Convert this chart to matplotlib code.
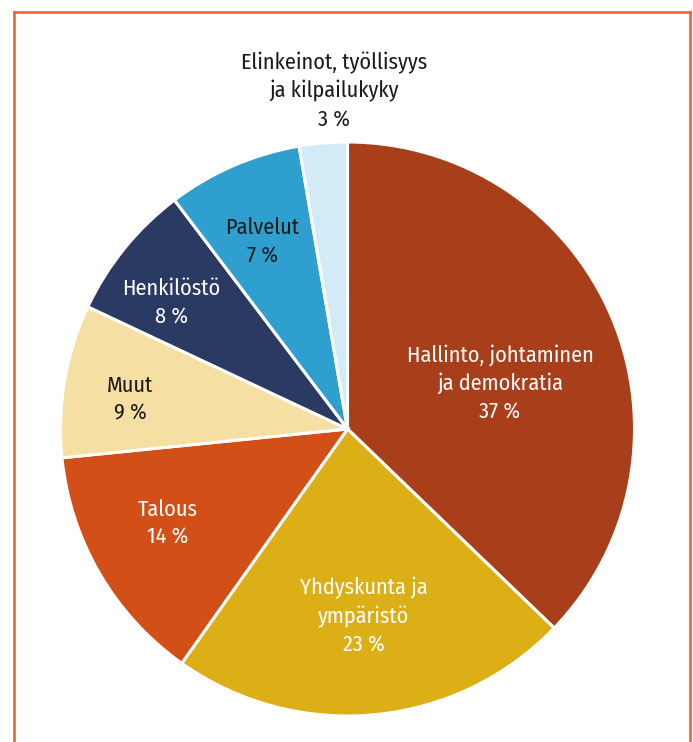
import matplotlib
matplotlib.use("Agg")
import matplotlib.pyplot as plt
import numpy as np

categories = ["Hallinto, johtaminen\nja demokratia", "Yhdyskunta ja\nympäristö", "Talous", "Muut",
              "Henkilöstö", "Palvelut", "Elinkeinot, työllisyys\nja kilpailukyky"]
values = [37.2, 22.6, 13.6, 8.6, 7.7, 7.6, 2.7]
pct_labels = ["37 %", "23 %", "14 %", "9 %", "8 %", "7 %", "3 %"]
colors = ["#A83E1A", "#DCAF17", "#D34F18", "#F5DFA2", "#2A3A62", "#2F9FCF", "#D3EAF7"]
text_colors = ["white", "white", "white", "#1a1a1a", "white", "#1a1a1a", "#1a1a1a"]
# label placement: distance (fraction of radius) and clockwise angle shift from wedge middle
label_dist = [0.555, 0.655, 0.706, 0.765, 0.756, 0.716, 1.18]
label_shift = [6.2, 0.4, 2.6, -1.9, -3.4, -1.0, 2.6]

plt.rcParams['font.family'] = ['Fira Sans Condensed', 'DejaVu Sans']

W, H = 693, 742
fig = plt.figure(figsize=(W/100, H/100), dpi=100)
ax = fig.add_axes([0, 0, 1, 1])

cx, cy, R = 347.5, H - 429, 287
wedges, _ = ax.pie(values, colors=colors, startangle=90, counterclock=False,
                   center=(cx, cy), radius=R, frame=True,
                   wedgeprops=dict(edgecolor="white", linewidth=2.2))
ax.set_xlim(0, W)
ax.set_ylim(0, H)
ax.set_aspect('equal')
ax.axis('off')

for w, name, pct, tc, d, s in zip(wedges, categories, pct_labels, text_colors, label_dist, label_shift):
    mid = np.deg2rad((w.theta1 + w.theta2) / 2 - s)
    x = cx + d * R * np.cos(mid)
    y = cy + d * R * np.sin(mid)
    ax.text(x, y, name + "\n" + pct, ha="center", va="center", color=tc,
            fontsize=16, linespacing=1.36, fontweight="normal")

bc = "#F0652F"
lw = 1.9
ax.plot([13.5, 13.5], [-5, H - 11.5], color=bc, lw=lw, solid_capstyle='projecting')
ax.plot([13.5, 689.5], [H - 11.5, H - 11.5], color=bc, lw=lw, solid_capstyle='projecting')
ax.plot([689.5, 689.5], [-5, H - 11.5], color=bc, lw=lw, solid_capstyle='projecting')

fig.savefig("out.png", dpi=100)
